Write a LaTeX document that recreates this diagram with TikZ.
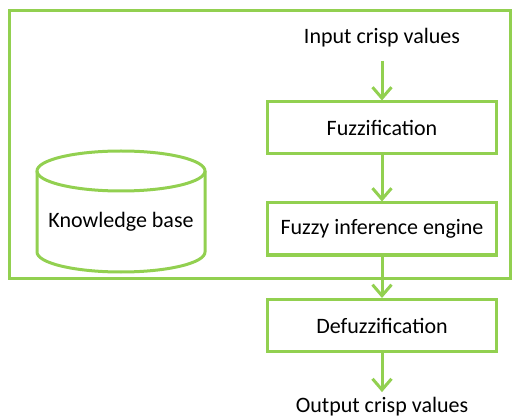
\documentclass[tikz,border=0pt]{standalone}
\usepackage{fontspec}
\setmainfont{Carlito}
\usetikzlibrary{arrows.meta}
\definecolor{lg}{HTML}{92D050}
\begin{document}
\begin{tikzpicture}[x=1pt,y=-1pt,line width=3pt,
  box/.style={draw=lg,minimum width=229pt,minimum height=52pt,inner sep=0pt,font=\fontsize{22}{26}\selectfont},
  txt/.style={inner sep=0pt,font=\fontsize{22}{26}\selectfont},
  arr/.style={draw=lg,-{Straight Barb[length=11pt,width=19pt,line width=3pt]}}]
\useasboundingbox (0,0) rectangle (513,419);
\draw[lg] (9.5,10.5) rectangle (510.5,278.5);
% cylinder
\draw[lg] (37,171) -- (37,252) .. controls (37,263.05) and (74.6,272) .. (121,272) .. controls (167.4,272) and (205,263.05) .. (205,252) -- (205,171);
\draw[lg] (121,171) ellipse[x radius=84,y radius=20];
\node[txt] (kb) at (121,222) {Knowledge base};
% flow
\node[txt] (in) at (382,38) {Input crisp values};
\node[box] (fz) at (382,128) {Fuzzification};
\node[box] (fie) at (382,229) {Fuzzy inference engine};
\node[box] (dfz) at (382,325.5) {Defuzzification};
\node[txt] (out) at (382,407) {Output crisp values};
\draw[arr,shorten <=12pt] (in.south) -- (fz.north);
\draw[arr] (fz.south) -- (fie.north);
\draw[arr] (fie.south) -- (dfz.north);
\draw[arr,shorten >=4pt] (dfz.south) -- (out.north);
\end{tikzpicture}
\end{document}
